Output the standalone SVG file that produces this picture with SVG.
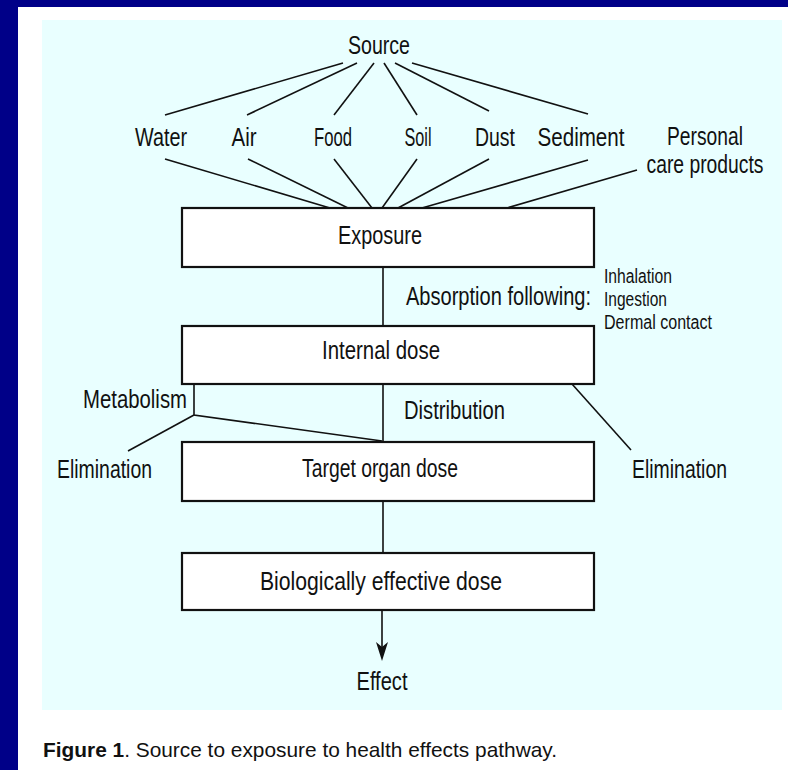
<svg xmlns="http://www.w3.org/2000/svg" width="788" height="770" viewBox="0 0 788 770">
<defs>
<style>
text{font-family:"Liberation Sans",Arial,sans-serif;fill:#111;}
.lbl{font-size:26px;}
.sm{font-size:20px;}
.cap{font-size:21px;}
.box{fill:#fff;stroke:#111;stroke-width:2.2;}
.ln{stroke:#111;stroke-width:1.6;fill:none;}
.head{fill:#111;}
</style>
</defs>
<rect x="0" y="0" width="788" height="770" fill="#ffffff"/>
<rect x="0" y="0" width="788" height="7" fill="#000088"/>
<rect x="0" y="0" width="18" height="770" fill="#000088"/>
<rect x="42" y="20" width="740" height="690" fill="#E9FFFF"/>

<g id="connectors">
<line class="ln" x1="343" y1="63" x2="165" y2="115"/>
<line class="ln" x1="357" y1="63" x2="247" y2="115"/>
<line class="ln" x1="374" y1="63" x2="334" y2="115"/>
<line class="ln" x1="384" y1="63" x2="417" y2="115"/>
<line class="ln" x1="395" y1="63" x2="489" y2="111"/>
<line class="ln" x1="412" y1="63" x2="588" y2="114"/>
<line class="ln" x1="165" y1="159" x2="330" y2="208"/>
<line class="ln" x1="248" y1="159" x2="348" y2="208"/>
<line class="ln" x1="334" y1="159" x2="372" y2="208"/>
<line class="ln" x1="417" y1="159" x2="382" y2="208"/>
<line class="ln" x1="489" y1="159" x2="398" y2="208"/>
<line class="ln" x1="588" y1="160" x2="422" y2="208"/>
<line class="ln" x1="637" y1="170" x2="507" y2="208"/>
<line class="ln" x1="383" y1="267" x2="383" y2="326"/>
<line class="ln" x1="383" y1="384" x2="383" y2="442"/>
<polyline class="ln" points="194,384 194,415 382,441"/>
<line class="ln" x1="194" y1="415" x2="128" y2="451"/>
<line class="ln" x1="572" y1="384" x2="631" y2="450"/>
<line class="ln" x1="383" y1="501" x2="383" y2="553"/>
<line class="ln" x1="382" y1="610" x2="382" y2="648"/>
<path class="head" d="M376,642 L382,647 L388,642 L382,661 Z"/>
</g>

<g id="source"><text class="lbl" x="379" y="54" text-anchor="middle" textLength="62" lengthAdjust="spacingAndGlyphs">Source</text></g>
<g id="water"><text class="lbl" x="161" y="146" text-anchor="middle" textLength="52" lengthAdjust="spacingAndGlyphs">Water</text></g>
<g id="air"><text class="lbl" x="244" y="146" text-anchor="middle" textLength="25" lengthAdjust="spacingAndGlyphs">Air</text></g>
<g id="food"><text class="lbl" x="333" y="146" text-anchor="middle" textLength="38" lengthAdjust="spacingAndGlyphs">Food</text></g>
<g id="soil"><text class="lbl" x="418" y="146" text-anchor="middle" textLength="27" lengthAdjust="spacingAndGlyphs">Soil</text></g>
<g id="dust"><text class="lbl" x="495" y="146" text-anchor="middle" textLength="40" lengthAdjust="spacingAndGlyphs">Dust</text></g>
<g id="sediment"><text class="lbl" x="581" y="146" text-anchor="middle" textLength="87" lengthAdjust="spacingAndGlyphs">Sediment</text></g>
<g id="personal">
<text class="lbl" x="705" y="145" text-anchor="middle" textLength="76" lengthAdjust="spacingAndGlyphs">Personal</text>
<text class="lbl" x="705" y="173" text-anchor="middle" textLength="117" lengthAdjust="spacingAndGlyphs">care products</text>
</g>

<g id="exposure">
<rect class="box" x="182" y="208" width="412" height="59"/>
<text class="lbl" x="380" y="244" text-anchor="middle" textLength="84" lengthAdjust="spacingAndGlyphs">Exposure</text>
</g>
<g id="absorption">
<text class="lbl" x="406" y="305" textLength="185" lengthAdjust="spacingAndGlyphs">Absorption following:</text>
<text class="sm" x="604" y="283" textLength="68" lengthAdjust="spacingAndGlyphs">Inhalation</text>
<text class="sm" x="604" y="306" textLength="63" lengthAdjust="spacingAndGlyphs">Ingestion</text>
<text class="sm" x="604" y="329" textLength="108" lengthAdjust="spacingAndGlyphs">Dermal contact</text>
</g>
<g id="internal-dose">
<rect class="box" x="182" y="326" width="412" height="58"/>
<text class="lbl" x="381" y="359" text-anchor="middle" textLength="118" lengthAdjust="spacingAndGlyphs">Internal dose</text>
</g>
<g id="metabolism"><text class="lbl" x="83" y="408" textLength="104" lengthAdjust="spacingAndGlyphs">Metabolism</text></g>
<g id="distribution"><text class="lbl" x="404" y="419" textLength="101" lengthAdjust="spacingAndGlyphs">Distribution</text></g>
<g id="elimination-left"><text class="lbl" x="57" y="478" textLength="95" lengthAdjust="spacingAndGlyphs">Elimination</text></g>
<g id="elimination-right"><text class="lbl" x="632" y="478" textLength="95" lengthAdjust="spacingAndGlyphs">Elimination</text></g>
<g id="target-organ-dose">
<rect class="box" x="182" y="442" width="412" height="59"/>
<text class="lbl" x="380" y="477" text-anchor="middle" textLength="156" lengthAdjust="spacingAndGlyphs">Target organ dose</text>
</g>
<g id="bio-dose">
<rect class="box" x="182" y="553" width="412" height="57"/>
<text class="lbl" x="381" y="590" text-anchor="middle" textLength="242" lengthAdjust="spacingAndGlyphs">Biologically effective dose</text>
</g>
<g id="effect"><text class="lbl" x="382" y="690" text-anchor="middle" textLength="51" lengthAdjust="spacingAndGlyphs">Effect</text></g>

<g id="caption">
<text class="cap" x="43" y="757" textLength="514" lengthAdjust="spacingAndGlyphs"><tspan font-weight="bold">Figure 1</tspan>. Source to exposure to health effects pathway.</text>
</g>
</svg>
